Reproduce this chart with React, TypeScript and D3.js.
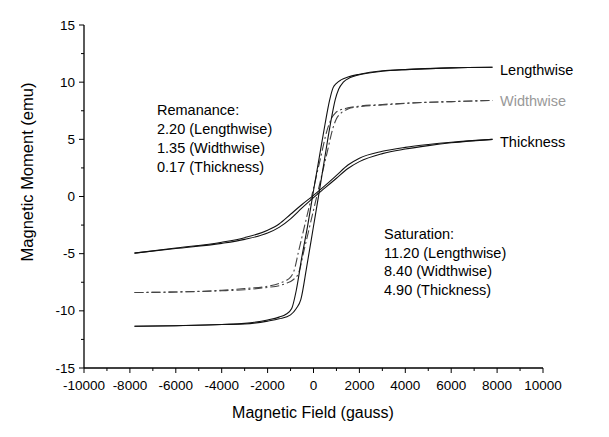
import React from 'react';
import * as d3 from 'd3';

// field (gauss), moment (emu); each loop split into its two branches
const lengthDown: [number, number][] = [
  [-7800, -11.35], [-6000, -11.3], [-4000, -11.2], [-3000, -11.1], [-2000, -10.8],
  [-1500, -10.55], [-1200, -10.3], [-950, -9.8], [-750, -8.2], [-500, -5.2],
  [-250, -2.5], [0, 0.5], [250, 3.4], [500, 6.3], [700, 8.4], [850, 9.5],
  [1000, 9.9], [1200, 10.2], [1500, 10.45], [2000, 10.7], [3000, 11.0],
  [4000, 11.1], [6000, 11.25], [7800, 11.3],
];
const lengthUp: [number, number][] = [
  [-7800, -11.35], [-6000, -11.3], [-4000, -11.2], [-3000, -11.15], [-2000, -10.9],
  [-1500, -10.7], [-1000, -10.35], [-750, -9.8], [-550, -9.0], [-300, -6.2],
  [0, -2.6], [250, 0.4], [500, 3.5], [750, 6.5], [950, 8.5], [1100, 9.4],
  [1300, 10.0], [1600, 10.4], [2000, 10.65], [3000, 10.95], [4000, 11.1],
  [6000, 11.25], [7800, 11.3],
];
const widthDown: [number, number][] = [
  [-7800, -8.4], [-6000, -8.35], [-4000, -8.2], [-3000, -8.05], [-2000, -7.85],
  [-1500, -7.6], [-1200, -7.35], [-1000, -7.05], [-850, -6.5], [-650, -4.8],
  [-350, -2.25], [0, 0.7], [300, 3.3], [600, 5.85], [800, 6.9], [950, 7.3],
  [1200, 7.6], [1500, 7.75], [2000, 7.9], [3000, 8.05], [4500, 8.2],
  [6000, 8.3], [7800, 8.4],
];
const widthUp: [number, number][] = [
  [-7800, -8.4], [-6000, -8.35], [-4000, -8.25], [-3000, -8.15], [-2000, -7.95],
  [-1500, -7.8], [-1200, -7.6], [-900, -7.3], [-650, -6.7], [-400, -4.6],
  [0, -1.2], [300, 1.35], [600, 3.9], [850, 6.0], [1000, 6.8], [1200, 7.3],
  [1500, 7.65], [2000, 7.85], [3000, 8.0], [4500, 8.2], [6000, 8.3], [7800, 8.4],
];
const thickDown: [number, number][] = [
  [-7800, -4.95], [-6000, -4.5], [-4000, -4.0], [-3000, -3.6], [-2000, -2.95],
  [-1500, -2.4], [-1000, -1.55], [-500, -0.7], [0, 0.1], [500, 0.95],
  [1000, 1.85], [1500, 2.75], [2000, 3.35], [3000, 3.95], [4000, 4.3],
  [5000, 4.55], [6000, 4.75], [7800, 5.0],
];
const thickUp: [number, number][] = [
  [-7800, -4.95], [-6000, -4.55], [-4000, -4.1], [-3000, -3.75], [-2000, -3.2],
  [-1500, -2.7], [-1000, -1.95], [-500, -1.0], [0, -0.1], [500, 0.75],
  [1000, 1.6], [1500, 2.45], [2000, 3.05], [3000, 3.75], [4000, 4.15],
  [5000, 4.45], [6000, 4.7], [7800, 5.0],
];

const xTicks = [-10000, -8000, -6000, -4000, -2000, 0, 2000, 4000, 6000, 8000, 10000];
const xMinor = [-9000, -7000, -5000, -3000, -1000, 1000, 3000, 5000, 7000, 9000];
const yTicks = [-15, -10, -5, 0, 5, 10, 15];
const yMinor = [-12.5, -7.5, -2.5, 2.5, 7.5, 12.5];

const remanence = ['Remanance:', '2.20 (Lengthwise)', '1.35 (Widthwise)', '0.17 (Thickness)'];
const saturation = ['Saturation:', '11.20 (Lengthwise)', '8.40 (Widthwise)', '4.90 (Thickness)'];

const FONT = 'Liberation Sans, Arial, sans-serif';

export default function App() {
  const x = d3.scaleLinear().domain([-10000, 10000]).range([84, 543]);
  const y = d3.scaleLinear().domain([-15, 15]).range([368, 25]);

  const line = d3.line<[number, number]>()
    .x(d => x(d[0]))
    .y(d => y(d[1]))
    .curve(d3.curveMonotoneX);

  const solid = { fill: 'none', stroke: '#111', strokeWidth: 1.1 };
  const dashed = { fill: 'none', stroke: '#444', strokeWidth: 1.1, strokeDasharray: '9,3,2,3' };

  return (
    <svg width={609} height={437} style={{ position: 'absolute', left: 0, top: 0, background: '#fff' }}
      fontFamily={FONT}>
      {/* axes */}
      <line x1={x(-10000)} x2={x(-10000)} y1={y(15)} y2={y(-15)} stroke="#000" strokeWidth={1.3} />
      <line x1={x(-10000)} x2={x(10000)} y1={y(-15)} y2={y(-15)} stroke="#000" strokeWidth={1.3} />

      {yTicks.map(t => (
        <g key={'y' + t}>
          <line x1={x(-10000) - 5} x2={x(-10000)} y1={y(t)} y2={y(t)} stroke="#000" />
          <text x={x(-10000) - 9} y={y(t) + 4.5} fontSize={13.5} textAnchor="end">{t}</text>
        </g>
      ))}
      {yMinor.map(t => (
        <line key={'ym' + t} x1={x(-10000) - 3} x2={x(-10000)} y1={y(t)} y2={y(t)} stroke="#000" />
      ))}
      {xTicks.map(t => (
        <g key={'x' + t}>
          <line x1={x(t)} x2={x(t)} y1={y(-15)} y2={y(-15) + 5} stroke="#000" />
          <text x={x(t)} y={390} fontSize={13.5} textAnchor="middle">{t}</text>
        </g>
      ))}
      {xMinor.map(t => (
        <line key={'xm' + t} x1={x(t)} x2={x(t)} y1={y(-15)} y2={y(-15) + 3} stroke="#000" />
      ))}

      <text x={313} y={418} fontSize={16} textAnchor="middle">Magnetic Field (gauss)</text>
      <text transform="translate(33,172) rotate(-90)" fontSize={16.5} textAnchor="middle">
        Magnetic Moment (emu)
      </text>

      {/* loops */}
      <path d={line(thickDown) ?? ''} {...solid} />
      <path d={line(thickUp) ?? ''} {...solid} />
      <path d={line(widthDown) ?? ''} {...dashed} />
      <path d={line(widthUp) ?? ''} {...dashed} />
      <path d={line(lengthDown) ?? ''} {...solid} />
      <path d={line(lengthUp) ?? ''} {...solid} />

      <text x={500} y={75} fontSize={14.5}>Lengthwise</text>
      <text x={500} y={106} fontSize={14.5} fill="#999">Widthwise</text>
      <text x={500} y={147} fontSize={14.5}>Thickness</text>

      {remanence.map((s, i) => (
        <text key={s} x={157} y={115 + i * 19} fontSize={14.5}>{s}</text>
      ))}
      {saturation.map((s, i) => (
        <text key={s} x={384} y={239 + i * 18.7} fontSize={14.5}>{s}</text>
      ))}
    </svg>
  );
}
